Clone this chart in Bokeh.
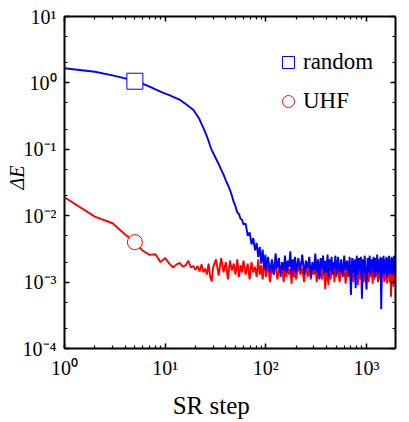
import math
from bokeh.plotting import figure
from bokeh.models import (Range1d, FixedTicker, LogAxis, Legend, LegendItem,
                          ColumnDataSource)
from bokeh.embed import file_html
from bokeh.resources import INLINE

# SR steps sampled (x axis)
steps = (list(range(1, 31)) + list(range(32, 62, 2)) + list(range(63, 100, 3))
         + list(range(100, 200, 5)) + list(range(200, 500, 10))
         + list(range(500, 1000, 20)) + list(range(1000, 1951, 25)))

# Delta E in units of 1e-3
random_milli = [
    1660, 1470, 1300, 1170, 1060, 970, 880, 800, 740, 690,
    653, 617, 585, 557, 516, 480, 448, 420, 394, 352,
    315, 281, 240, 208, 180, 156, 133, 112, 97, 88,
    72, 60, 49.5, 41.5, 34, 29, 24.5, 20, 16, 13.8, 11.2, 10.6, 9.0, 8.7, 7.4,
    7.6, 5.0, 5.6, 3.7, 4.6, 3.0, 3.9, 2.4, 3.4, 1.9, 3.1, 1.6, 2.6,
    1.5, 2.4, 1.4, 2.2, 1.3, 2.7, 1.6, 2.3, 1.2, 2.0, 1.5, 2.5, 1.4, 2.1, 1.7, 2.9, 1.3, 2.2, 1.5, 2.4,
    1.4, 2.3, 1.5, 2.6, 1.3, 2.1, 1.6, 2.4, 1.2, 2.0, 1.5, 2.7, 1.4, 2.2, 1.1,
    2.3, 1.6, 2.5, 1.3, 2.1, 1.4, 2.6, 1.2, 2.2, 1.5, 2.4, 1.3, 2.0, 1.6, 2.5,
    1.3, 2.4, 1.4, 2.2, 1.2, 2.5, 1.5, 2.1, 1.3, 2.4, 0.64, 2.3, 1.4, 2.2, 0.81,
    2.5, 1.3, 2.3, 1.5, 2.4, 0.56, 2.2, 1.4, 2.5, 1.3,
    0.77, 2.3, 1.4, 2.5, 1.3, 2.2, 1.5, 2.4, 1.2, 2.3, 1.4, 2.6, 1.3, 2.2, 1.5,
    2.4, 0.39, 2.3, 1.4, 2.5, 1.3, 2.2, 1.5, 2.4, 1.2, 2.3, 1.4, 2.5, 1.3, 2.2,
    1.5, 2.4, 1.3, 2.3, 1.4, 2.5, 1.3, 2.2, 1.6,
]
uhf_milli = [
    19, 9.7, 7.7, 5.2, 4.0, 2.96, 2.57, 2.63, 2.0, 2.3,
    1.9, 1.66, 1.85, 1.94, 1.7, 1.8, 2.1, 1.66, 1.75, 1.53,
    1.75, 1.45, 1.85, 1.4, 1.6, 1.3, 1.9, 1.2, 1.02, 1.7,
    2.2, 1.25, 2.3, 1.4, 2.0, 1.1, 2.1, 1.5, 1.9, 1.3, 2.2, 1.2, 1.8, 1.4, 2.1,
    1.3, 1.9, 1.1, 2.0, 1.4, 1.7, 1.2, 2.2, 1.3, 1.8, 1.1, 1.9, 1.5,
    1.2, 1.8, 1.0, 1.7, 1.3, 2.0, 1.1, 1.6, 1.4, 1.9, 1.0, 1.7, 1.2, 1.8, 1.3, 1.6, 0.95, 1.9, 1.2, 1.7,
    1.1, 1.8, 1.3, 1.6, 1.0, 1.9, 1.2, 1.7, 1.1, 1.6, 1.3, 1.8, 1.0, 1.7, 1.2,
    1.6, 1.1, 1.9, 1.3, 0.78, 1.7, 1.2, 0.91, 1.8, 1.1, 1.6, 1.3, 1.7, 1.0, 1.8,
    1.2, 1.7, 1.0, 1.6, 1.3, 1.8, 0.95, 1.6, 1.2, 1.7, 1.1, 1.9, 1.0, 1.6, 1.2,
    1.7, 0.9, 1.8, 1.1, 1.6, 1.2, 1.7, 1.0, 1.8, 1.2,
    1.1, 1.7, 1.0, 1.6, 1.2, 1.8, 0.95, 1.7, 1.1, 1.6, 1.2, 1.9, 1.0, 1.6, 1.1,
    1.7, 0.9, 1.8, 1.2, 1.6, 1.0, 1.7, 1.1, 1.8, 0.95, 1.6, 1.2, 1.7, 1.0, 1.9,
    0.6, 1.6, 1.1, 1.7, 0.85, 1.6, 1.2, 1.8, 1.0,
]
series_names = ["random", "UHF"]
marker_index = 4  # data point carrying the symbol
x_title = "SR step"
y_title = "\u0394E"

x_major = [1, 10, 100, 1000]
x_minor = [m * d for d in (1, 10, 100, 1000) for m in range(2, 10) if m * d < 2000]
y_major = [1e-4, 1e-3, 1e-2, 1e-1, 1, 10]
y_minor = [m * d for d in (1e-4, 1e-3, 1e-2, 1e-1, 1) for m in (2, 5)]

sup = {"-": "\u207b", "0": "\u2070", "1": "\u00b9", "2": "\u00b2", "3": "\u00b3", "4": "\u2074"}
def lab(v):
    e = str(int(round(math.log10(v))))
    return "10" + "".join(sup[c] for c in e)

random_vals = [v * 1e-3 for v in random_milli]
uhf_vals = [v * 1e-3 for v in uhf_milli]

FONT = "Liberation Serif"
NB = "\u00a0"

p = figure(frame_width=331, frame_height=332, x_axis_type="log", y_axis_type="log",
           x_range=Range1d(1, 1940), y_range=Range1d(1e-4, 10),
           output_backend="svg", toolbar_location=None,
           min_border_left=64, min_border_right=14, min_border_top=16, min_border_bottom=74)
p.grid.visible = False
p.outline_line_color = None
p.background_fill_color = "white"

xt = FixedTicker(ticks=x_major, minor_ticks=x_minor)
yt = FixedTicker(ticks=y_major, minor_ticks=y_minor)

def style(ax, labels=True):
    ax.axis_line_width = 2
    ax.axis_line_color = "black"
    ax.major_tick_in = 5
    ax.major_tick_out = 0
    ax.minor_tick_in = 3
    ax.minor_tick_out = 0
    ax.major_tick_line_width = 1.5
    ax.minor_tick_line_width = 1.2
    ax.major_label_text_font = FONT
    ax.major_label_text_color = "black"
    ax.axis_label_text_font = FONT
    ax.axis_label_text_color = "black"
    if labels:
        ax.major_label_text_font_size = "20px"
    else:
        ax.major_label_text_font_size = "1px"
        ax.major_label_text_alpha = 0
        ax.major_label_standoff = 0

p.xaxis.ticker = xt
p.yaxis.ticker = yt
style(p.xaxis[0])
style(p.yaxis[0])
p.xaxis.major_label_overrides = {v: lab(v) for v in x_major}
p.yaxis.major_label_overrides = {v: lab(v) for v in y_major}
p.xaxis.major_label_standoff = 8
p.yaxis.major_label_standoff = 8

p.xaxis.axis_label = x_title + NB * 6
p.xaxis.axis_label_text_font_size = "25px"
p.xaxis.axis_label_text_font_style = "normal"
p.xaxis.axis_label_standoff = 10
p.yaxis.axis_label = NB * 2 + y_title
p.yaxis.axis_label_text_font_size = "20px"
p.yaxis.axis_label_text_font_style = "italic"
p.yaxis.axis_label_standoff = -8

top = LogAxis(ticker=xt)
style(top, labels=False)
p.add_layout(top, "above")
right = LogAxis(ticker=yt)
style(right, labels=False)
p.add_layout(right, "right")

src = ColumnDataSource(dict(x=steps, r=random_vals, u=uhf_vals))
p.line("x", "u", source=src, line_color="#ff0000", line_width=1.9)
p.line("x", "r", source=src, line_color="#0000ff", line_width=1.9)

sq = p.scatter([steps[marker_index]], [random_vals[marker_index]], marker="square", size=16,
               fill_color="white", line_color="#0000ff", line_width=1)
ci = p.scatter([steps[marker_index]], [uhf_vals[marker_index]], marker="circle", size=15,
               fill_color="white", line_color="#ff0000", line_width=1)

legend = Legend(items=[LegendItem(label=series_names[0], renderers=[sq]),
                       LegendItem(label=series_names[1], renderers=[ci])],
                location=(209, 232), orientation="vertical", glyph_width=30, glyph_height=30,
                spacing=9, padding=0, margin=0, label_standoff=-1,
                border_line_color=None, background_fill_alpha=0,
                label_text_font=FONT, label_text_font_size="23px", label_text_color="black")
p.add_layout(legend)

open("out.html", "w").write(file_html(p, INLINE))
